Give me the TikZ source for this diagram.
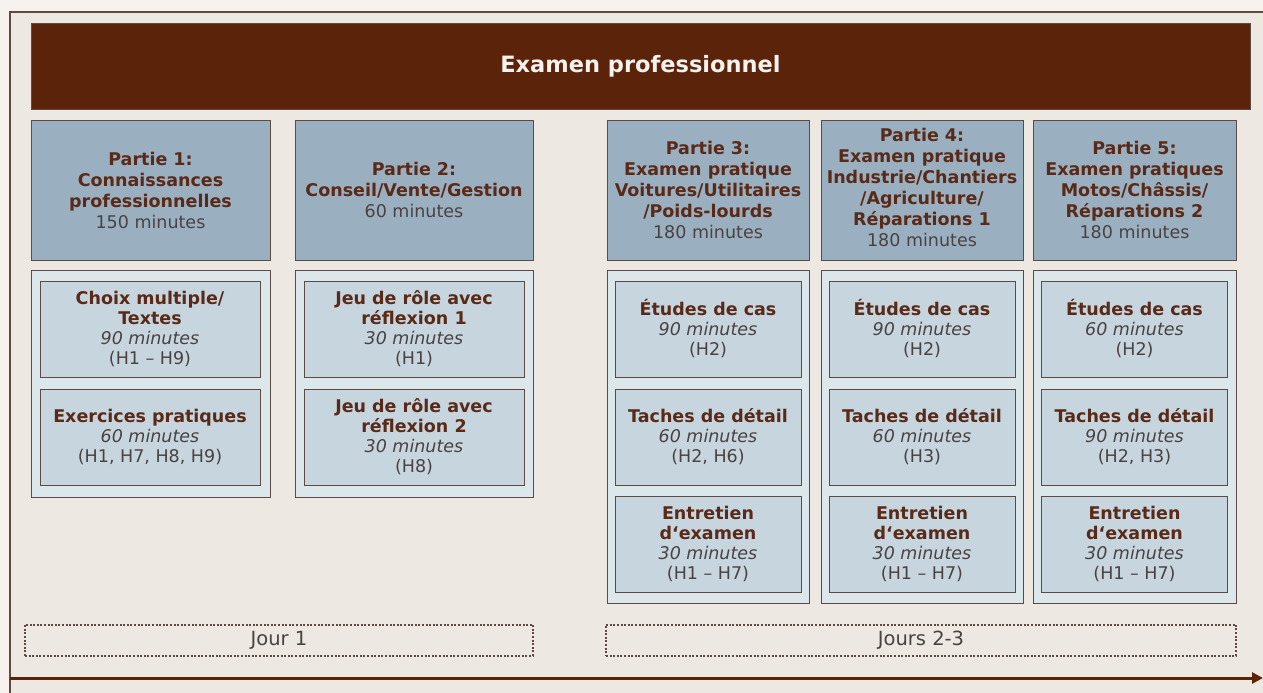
\documentclass[tikz,border=0pt]{standalone}
\usepackage{fontspec}
\setmainfont{DejaVu Sans}
\usetikzlibrary{arrows.meta}
\definecolor{outbg}{HTML}{F7F2EE}
\definecolor{bg}{HTML}{EDE8E1}
\definecolor{titlec}{HTML}{5B2309}
\definecolor{headc}{HTML}{9AAFBF}
\definecolor{contc}{HTML}{DCE7EC}
\definecolor{innerc}{HTML}{C6D5DE}
\definecolor{bordc}{HTML}{5E4A42}
\definecolor{boldc}{HTML}{5A2A18}
\definecolor{grayc}{HTML}{4A4242}
\newcommand{\hb}[1]{{\fontsize{17.5}{21}\selectfont\bfseries\color{boldc}#1}}
\newcommand{\mi}[1]{{\color{grayc}#1}}
\newcommand{\im}[1]{{\itshape\color{grayc}#1}}
\tikzset{
  x=1pt, y=-1pt,
  box/.style={draw=bordc, line width=1pt, inner sep=0pt, align=center},
  headbox/.style={box, fill=headc, font=\fontsize{17.5}{21}\selectfont},
  contbox/.style={box, fill=contc},
  innerbox/.style={box, fill=innerc, font=\fontsize{17.5}{20}\selectfont},
  jourbox/.style={draw=bordc, line width=2pt, dash pattern=on 2pt off 1.6pt, inner sep=0pt, font=\fontsize{19.5}{22}\selectfont, text=grayc},
}
\begin{document}
\begin{tikzpicture}
\useasboundingbox (0,0) rectangle (1263,693);
\fill[outbg] (0,0) rectangle (1263,693);
\fill[bg] (10,12) rectangle (1263,693);
\draw[bordc, line width=1.2pt] (10,693) -- (10,12) -- (1263,12);

% title
\node[fill=titlec, draw=bordc, line width=1pt, minimum width=1219pt, minimum height=85pt, inner sep=0pt,
  text=outbg, font=\fontsize{22.5}{26}\selectfont\bfseries] (title) at (640.5,66.5) {Examen professionnel};

% headers
\node[headbox, minimum width=239pt, minimum height=140pt] (h1) at (150.5,190)
 {\hb{Partie 1:}\\\hb{Connaissances}\\\hb{professionnelles}\\\mi{150 minutes}};
\node[headbox, minimum width=238pt, minimum height=140pt] (h2) at (414,190)
 {\hb{Partie 2:}\\\hb{Conseil/Vente/Gestion}\\\mi{60 minutes}};
\node[headbox, minimum width=202pt, minimum height=140pt] (h3) at (708,190)
 {\hb{Partie 3:}\\\hb{Examen pratique}\\\hb{Voitures/Utilitaires}\\\hb{/Poids-lourds}\\\mi{180 minutes}};
\node[headbox, minimum width=202pt, minimum height=140pt, text depth=5pt] (h4) at (922,190)
 {\hb{Partie 4:}\\\hb{Examen pratique}\\\hb{Industrie/Chantiers}\\\hb{/Agriculture/}\\\hb{Réparations 1}\\\mi{180 minutes}};
\node[headbox, minimum width=203pt, minimum height=140pt] (h5) at (1134.5,190)
 {\hb{Partie 5:}\\\hb{Examen pratiques}\\\hb{Motos/Châssis/}\\\hb{Réparations 2}\\\mi{180 minutes}};

% containers
\node[contbox, minimum width=239pt, minimum height=227pt] (c1) at (150.5,383.5) {};
\node[contbox, minimum width=238pt, minimum height=227pt] (c2) at (414,383.5) {};
\node[contbox, minimum width=202pt, minimum height=333pt] (c3) at (708,436.5) {};
\node[contbox, minimum width=202pt, minimum height=333pt] (c4) at (922,436.5) {};
\node[contbox, minimum width=203pt, minimum height=333pt] (c5) at (1134.5,436.5) {};

% inner boxes part 1
\node[innerbox, minimum width=220pt, minimum height=96pt] (a1) at (150,329)
 {\hb{Choix multiple/}\\\hb{Textes}\\\im{90 minutes}\\\mi{(H1 – H9)}};
\node[innerbox, minimum width=220pt, minimum height=96pt] (a2) at (150,437)
 {\hb{Exercices pratiques}\\\im{60 minutes}\\\mi{(H1, H7, H8, H9)}};
% part 2
\node[innerbox, minimum width=220pt, minimum height=96pt] (b1) at (414,329)
 {\hb{Jeu de rôle avec}\\\hb{réflexion 1}\\\im{30 minutes}\\\mi{(H1)}};
\node[innerbox, minimum width=220pt, minimum height=96pt] (b2) at (414,437)
 {\hb{Jeu de rôle avec}\\\hb{réflexion 2}\\\im{30 minutes}\\\mi{(H8)}};
% part 3
\node[innerbox, minimum width=186pt, minimum height=96pt] (d1) at (708,329)
 {\hb{Études de cas}\\\im{90 minutes}\\\mi{(H2)}};
\node[innerbox, minimum width=186pt, minimum height=96pt] (d2) at (708,437)
 {\hb{Taches de détail}\\\im{60 minutes}\\\mi{(H2, H6)}};
\node[innerbox, minimum width=186pt, minimum height=96pt] (d3) at (708,544)
 {\hb{Entretien}\\\hb{d‘examen}\\\im{30 minutes}\\\mi{(H1 – H7)}};
% part 4
\node[innerbox, minimum width=186pt, minimum height=96pt] (e1) at (922,329)
 {\hb{Études de cas}\\\im{90 minutes}\\\mi{(H2)}};
\node[innerbox, minimum width=186pt, minimum height=96pt] (e2) at (922,437)
 {\hb{Taches de détail}\\\im{60 minutes}\\\mi{(H3)}};
\node[innerbox, minimum width=186pt, minimum height=96pt] (e3) at (922,544)
 {\hb{Entretien}\\\hb{d‘examen}\\\im{30 minutes}\\\mi{(H1 – H7)}};
% part 5
\node[innerbox, minimum width=186pt, minimum height=96pt] (f1) at (1134.5,329)
 {\hb{Études de cas}\\\im{60 minutes}\\\mi{(H2)}};
\node[innerbox, minimum width=186pt, minimum height=96pt] (f2) at (1134.5,437)
 {\hb{Taches de détail}\\\im{90 minutes}\\\mi{(H2, H3)}};
\node[innerbox, minimum width=186pt, minimum height=96pt] (f3) at (1134.5,544)
 {\hb{Entretien}\\\hb{d‘examen}\\\im{30 minutes}\\\mi{(H1 – H7)}};

% days
\node[jourbox, minimum width=508pt, minimum height=31pt] (j1) at (279,640) {Jour 1};
\node[jourbox, minimum width=630pt, minimum height=31pt] (j2) at (921,640) {Jours 2-3};

% time arrow
\coordinate (t0) at (10,678);
\coordinate (t1) at (1263,678);
\draw[titlec, line width=3pt, -{Triangle[length=11pt,width=11pt]}] (t0) -- (t1);
\end{tikzpicture}
\end{document}
